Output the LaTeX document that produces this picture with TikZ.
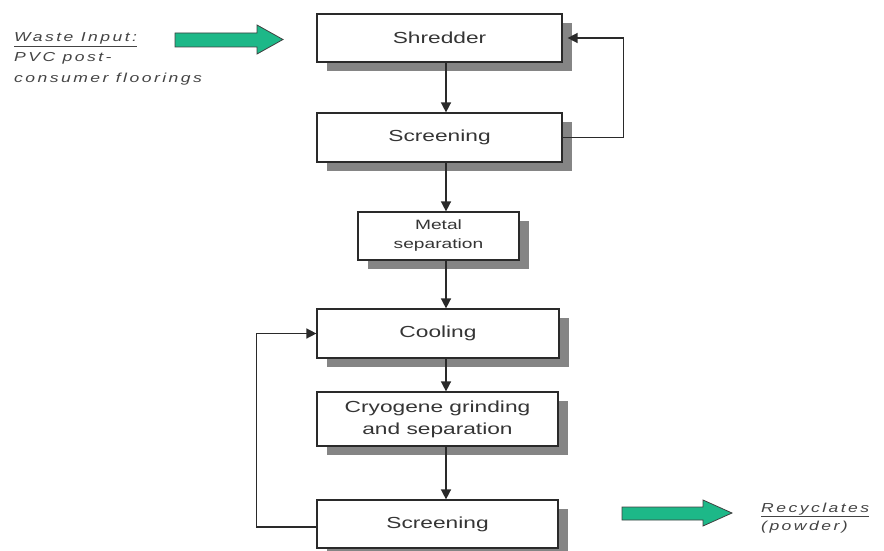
\documentclass[tikz,border=0pt]{standalone}
\usepackage{fontspec}
\setmainfont{Liberation Sans}
\newfontfamily\boxfont[FakeStretch=1.42]{Liberation Sans}
\newfontfamily\notefont[FakeStretch=1.35,LetterSpace=19]{Liberation Sans}
\usetikzlibrary{arrows.meta,shadows}

\definecolor{boxline}{HTML}{2A2A2A}
\definecolor{boxtext}{HTML}{353535}
\definecolor{shadowgray}{HTML}{858585}
\definecolor{flowgreen}{HTML}{1DB888}
\definecolor{labelgray}{HTML}{444444}

\begin{document}
\begin{tikzpicture}[x=1pt,y=-1pt,
  stage/.style={draw=boxline, line width=1.2pt, fill=white, text=boxtext,
    font=\boxfont\fontsize{16}{22}\selectfont, align=center, inner sep=0pt,
    drop shadow={shadow xshift=10pt, shadow yshift=-9pt, fill=shadowgray, opacity=1}},
  smallstage/.style={stage, font=\boxfont\fontsize{13.5}{19}\selectfont},
  flow/.style={draw=boxline, line width=1.5pt, -{Triangle[width=10pt,length=10pt]}},
  bigarrow/.style={draw=black!75, line width=0.8pt, fill=flowgreen, line join=miter},
  note/.style={anchor=base west, inner sep=0pt, text=labelgray,
    font=\notefont\itshape\fontsize{13}{20}\selectfont}
]
\useasboundingbox (0,0) rectangle (884,551);

% process stages
\node[stage, minimum width=245pt, minimum height=48pt] (shred)   at (439.5,38)  {Shredder};
\node[stage, minimum width=245pt, minimum height=49pt] (screen)  at (439.5,137.5) {Screening};
\node[smallstage, minimum width=161pt, minimum height=48pt] (metal) at (438.5,236) {Metal\\separation};
\node[stage, minimum width=242pt, minimum height=49pt] (cool)    at (438,333.5) {Cooling};
\node[stage, minimum width=241pt, minimum height=54pt] (cryo)    at (437.5,419) {Cryogene grinding\\and separation};
\node[stage, minimum width=241pt, minimum height=48pt] (screen2) at (437.5,524) {Screening};

% main flow
\coordinate (col) at (446,0);
\draw[flow] (shred.south -| col)  -- (screen.north -| col);
\draw[flow] (screen.south -| col) -- (metal.north -| col);
\draw[flow] (metal.south -| col)  -- (cool.north -| col);
\draw[flow] (cool.south -| col)   -- (cryo.north -| col);
\draw[flow] (cryo.south -| col)   -- (screen2.north -| col);

% return loops
\draw[flow] (screen.east) -- ++(61,0) |- ([xshift=5pt]shred.east);
\draw[flow] ([yshift=-3pt]screen2.west) -- ++(-60,0) |- (cool.west);

% input and output arrows
\draw[bigarrow] (175,33) -- (257,33) -- (257,25) -- (283,39.5) -- (257,54) -- (257,47) -- (175,47) -- cycle;
\draw[bigarrow] (622,507) -- (703,507) -- (703,500) -- (732,513) -- (703,526) -- (703,520) -- (622,520) -- cycle;

% labels
\node[note] (waste)  at (14,42)  {\underline{Waste Input:}};
\node[note] (pvc)    at (14,62)  {PVC post-};
\node[note] (cons)   at (14,82)  {consumer floorings};
\node[note] (recy)   at (761,512) {\underline{Recyclates}};
\node[note] (powder) at (761,530) {(powder)};
\end{tikzpicture}
\end{document}
